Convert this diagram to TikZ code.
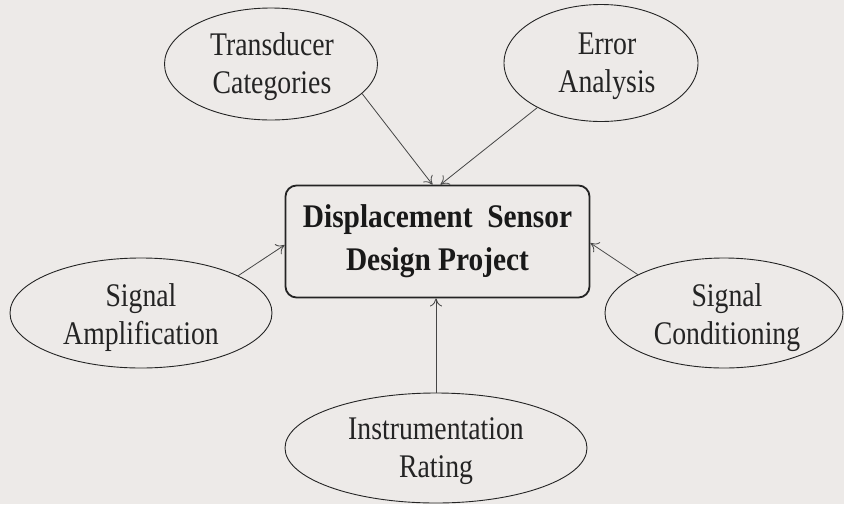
\documentclass[tikz,border=0pt]{standalone}
\usepackage{fontspec}
\setmainfont{Liberation Serif}[FakeStretch=0.84]
\newfontfamily\bcond{Liberation Serif}[FakeStretch=0.89]
\usetikzlibrary{shapes.geometric,arrows.meta,calc}
\definecolor{bg}{HTML}{EDEAE8}
\definecolor{ink}{HTML}{242424}
\begin{document}
\begin{tikzpicture}[x=1pt,y=-1pt,
  topic/.style={ellipse,draw=ink,line width=0.9pt,inner sep=0pt,align=center,
    font=\fontsize{33}{38}\selectfont,text=ink},
  lbl/.style={align=center,font=\fontsize{33}{38}\selectfont,text=ink,inner sep=0pt},
  mainbox/.style={draw=ink,line width=1.8pt,rounded corners=11pt,minimum width=304pt,
    minimum height=112pt,align=center,font=\bcond\bfseries\fontsize{33}{43}\selectfont,text=black!90},
  link/.style={draw=ink!85,line width=0.8pt,-{To[length=8pt,width=12pt]}}]
\fill[bg] (0,0) rectangle (844,504);
\useasboundingbox (0,0) rectangle (844,504);
\node[mainbox] (box) at (437.5,241.5) {Displacement\ \ Sensor\\Design Project};
\node[topic,minimum width=213pt,minimum height=112pt] (trans) at (271,64) {};
\node[topic,minimum width=194pt,minimum height=117pt] (err) at (601,63) {};
\node[topic,minimum width=262pt,minimum height=110pt] (amp) at (141,313) {};
\node[topic,minimum width=238pt,minimum height=110pt] (cond) at (724,313) {};
\node[topic,minimum width=302pt,minimum height=110pt] (inst) at (436,448) {};
\node[lbl] (transl) at ($(trans.center)+(1,3)$) {Transducer\\Categories};
\node[lbl] (errl) at ($(err.center)+(6,3)$) {Error\\Analysis};
\node[lbl] (ampl) at ($(amp.center)+(0,5)$) {Signal\\Amplification};
\node[lbl] (condl) at ($(cond.center)+(3,5)$) {Signal\\Conditioning};
\node[lbl] (instl) at ($(inst.center)+(0,3)$) {Instrumentation\\Rating};
\draw[link] (trans.-18.6) -- ($(box.north)+(-5,0)$);
\draw[link] (err.-145) -- ($(box.north)+(3,0)$);
\draw[link] (amp.21) -- ($(box.west)+(0,3.5)$);
\draw[link] (cond.156.4) -- ($(box.east)+(0,1.5)$);
\draw[link] (inst.north) -- (inst.north |- box.south);
\end{tikzpicture}
\end{document}
